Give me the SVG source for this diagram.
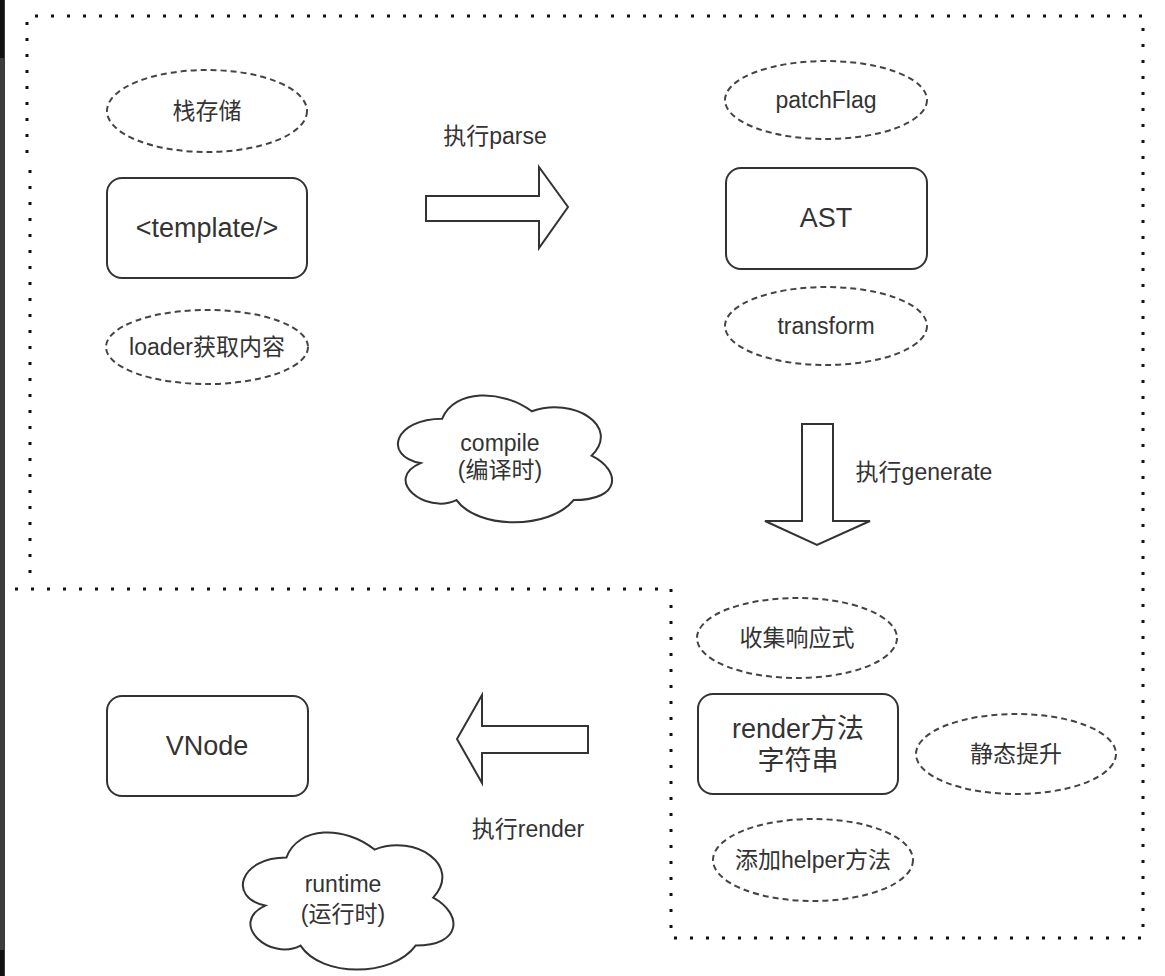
<svg xmlns="http://www.w3.org/2000/svg" width="1165" height="976" viewBox="0 0 1165 976">
<style>
.box{fill:#fff;stroke:#333;stroke-width:2}
.ell{fill:#fff;stroke:#444;stroke-width:2;stroke-dasharray:6 4}
.cloud{fill:#fff;stroke:#333;stroke-width:2}
.arr{fill:#fff;stroke:#333;stroke-width:2;stroke-linejoin:miter}
.dot{fill:none;stroke:#111;stroke-width:3;stroke-dasharray:3 13}
text{font-family:"Liberation Sans","Noto Sans CJK SC",sans-serif;fill:#333;text-anchor:middle;dominant-baseline:central}
.s{font-size:23px}
.l{font-size:27px}
</style>
<rect width="1165" height="976" fill="#fff"/>
<rect x="0" y="0" width="5" height="976" fill="#3c3c3c"/>
<rect x="0" y="0" width="4" height="58" fill="#111"/>
<rect x="0" y="950" width="4" height="26" fill="#111"/>

<g id="boundary">
<path class="dot" d="M 35 16 H 1143 V 938 H 671 V 589 H 12"/>
<path class="dot" d="M 27 22 V 160"/>
<path class="dot" d="M 30 170 V 585"/>
</g>

<g id="connectors">
<g id="parse-arrow">
<path class="arr" d="M 426 196 H 539 V 167 L 568 207 L 539 248 V 221 H 426 Z"/>
<text class="s" x="495" y="136">执行parse</text>
</g>
<g id="generate-arrow">
<path class="arr" d="M 802 424 H 833 V 521 H 870 L 817 545 L 765 521 H 802 Z"/>
<text class="s" x="924" y="472">执行generate</text>
</g>
<g id="render-arrow">
<path class="arr" d="M 588 726 H 482 V 695 L 457 739 L 482 783 V 753 H 588 Z"/>
<text class="s" x="528" y="829">执行render</text>
</g>
</g>

<g id="stack">
<ellipse class="ell" cx="207" cy="111" rx="100" ry="41"/>
<text class="s" x="207" y="111">栈存储</text>
</g>
<g id="template">
<rect class="box" x="107" y="178" width="200" height="100" rx="15"/>
<text class="l" x="207" y="228">&lt;template/&gt;</text>
</g>
<g id="loader">
<ellipse class="ell" cx="207" cy="347" rx="101" ry="37"/>
<text class="s" x="207" y="347">loader获取内容</text>
</g>
<g id="compile">
<path class="cloud" d="M 442.2 418.7 C 394.4 418.7 382.4 455.7 420.6 463.1 C 382.4 479.4 425.4 514.9 456.5 500.1 C 478 529.7 549.7 529.7 573.6 500.1 C 621.4 500.1 621.4 470.5 591.5 455.7 C 621.4 426.1 573.6 396.5 531.8 411.3 C 501.9 389.1 454.1 389.1 442.2 418.7 Z"/>
<text class="s" x="500" y="443">compile</text>
<text class="s" x="500" y="470">(编译时)</text>
</g>
<g id="patchflag">
<ellipse class="ell" cx="826" cy="100" rx="101" ry="39"/>
<text class="s" x="826" y="100">patchFlag</text>
</g>
<g id="ast">
<rect class="box" x="726" y="168" width="201" height="101" rx="15"/>
<text class="l" x="826" y="218">AST</text>
</g>
<g id="transform">
<ellipse class="ell" cx="826" cy="326" rx="101" ry="39"/>
<text class="s" x="826" y="326">transform</text>
</g>
<g id="collect">
<ellipse class="ell" cx="797" cy="638" rx="100" ry="40"/>
<text class="s" x="797" y="638">收集响应式</text>
</g>
<g id="render">
<rect class="box" x="698" y="694" width="200" height="100" rx="15"/>
<text class="l" x="798" y="729">render方法</text>
<text class="l" x="798" y="761">字符串</text>
</g>
<g id="hoist">
<ellipse class="ell" cx="1016" cy="754" rx="100" ry="40"/>
<text class="s" x="1016" y="754">静态提升</text>
</g>
<g id="helper">
<ellipse class="ell" cx="813" cy="860" rx="100" ry="41"/>
<text class="s" x="813" y="860">添加helper方法</text>
</g>
<g id="vnode">
<rect class="box" x="107" y="696" width="201" height="100" rx="15"/>
<text class="l" x="207" y="746">VNode</text>
</g>
<g id="runtime">
<path class="cloud" d="M 286.4 857.6 C 239.4 857.6 227.6 897.6 265.2 905.6 C 227.6 923.2 269.9 961.6 300.5 945.6 C 321.6 977.6 392.1 977.6 415.6 945.6 C 462.6 945.6 462.6 913.6 433.2 897.6 C 462.6 865.6 415.6 833.6 374.5 849.6 C 345.1 825.6 298.1 825.6 286.4 857.6 Z"/>
<text class="s" x="343" y="884">runtime</text>
<text class="s" x="343" y="914">(运行时)</text>
</g>
</svg>
